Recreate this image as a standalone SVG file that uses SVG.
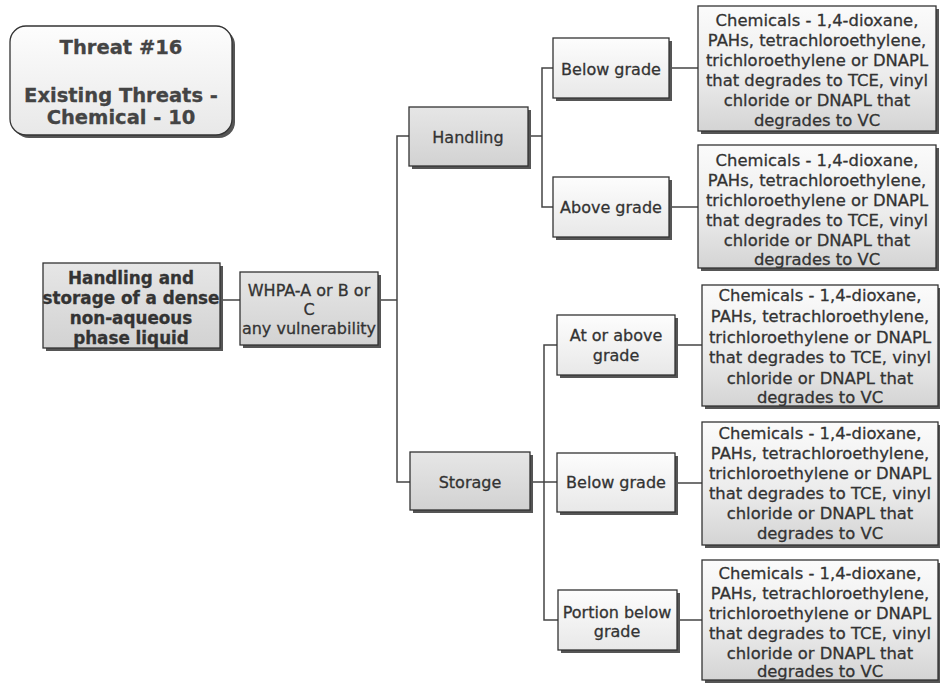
<svg xmlns="http://www.w3.org/2000/svg" width="940" height="687" viewBox="0 0 940 687">
<defs>
<linearGradient id="gGray" x1="0" y1="0" x2="0" y2="1">
<stop offset="0" stop-color="#e6e6e6"/><stop offset="1" stop-color="#d2d2d2"/>
</linearGradient>
<linearGradient id="gLeaf" x1="0" y1="0" x2="0" y2="1">
<stop offset="0" stop-color="#fbfbfb"/><stop offset="0.55" stop-color="#ececec"/><stop offset="1" stop-color="#d4d4d4"/>
</linearGradient>
<linearGradient id="gWhite" x1="0" y1="0" x2="0" y2="1">
<stop offset="0" stop-color="#fdfdfd"/><stop offset="1" stop-color="#e8e8e8"/>
</linearGradient>
</defs>
<style>
.sh{fill:#555}
.box{stroke:#333;stroke-width:1.3}
.g{fill:url(#gGray)}
.l{fill:url(#gLeaf)}
.w{fill:url(#gWhite)}
text{font-family:"DejaVu Sans",Verdana,sans-serif;fill:#333;stroke:#333;stroke-width:0.3;text-anchor:middle}
.b{font-weight:bold;font-size:16.8px}
.t{font-size:19.5px;font-weight:bold;fill:#444;stroke:#444}
.m{font-size:16px}
.c{font-size:16.4px}
.conn path{fill:none;stroke:#444;stroke-width:1.5}
</style>
<rect width="940" height="687" fill="#ffffff"/>

<g class="conn">
<path d="M220 300 H240"/>
<path d="M378 300 H397"/>
<path d="M409 136 H397 V482 H410"/>
<path d="M528 136 H542"/>
<path d="M553 68 H542 V207 H553"/>
<path d="M672 68 H698"/>
<path d="M672 207 H698"/>
<path d="M530 482 H557"/>
<path d="M557 345 H544 V620 H558"/>
<path d="M675 345 H702"/>
<path d="M675 483 H702"/>
<path d="M677 620 H702"/>
</g>

<g id="title">
<rect x="13" y="29" width="222" height="109" rx="16" class="sh"/>
<rect x="10" y="26" width="222" height="109" rx="16" class="box w"/>
<text class="t" x="121" y="54">Threat #16</text>
<text class="t" x="121" y="102">Existing Threats -</text>
<text class="t" x="121" y="124">Chemical - 10</text>
</g>

<g id="n-root">
<rect x="46" y="266" width="177" height="85" class="sh"/>
<rect x="43" y="263" width="177" height="85" class="box g"/>
<text class="b" x="131" y="284">Handling and</text>
<text class="b" x="131" y="304">storage of a dense</text>
<text class="b" x="131" y="324">non-aqueous</text>
<text class="b" x="131" y="344">phase liquid</text>
</g>

<g id="n-whpa">
<rect x="243" y="275" width="138" height="73" class="sh"/>
<rect x="240" y="272" width="138" height="73" class="box g"/>
<text class="m" x="309" y="296">WHPA-A or B or</text>
<text class="m" x="309" y="315">C</text>
<text class="m" x="309" y="334">any vulnerability</text>
</g>

<g id="n-handling">
<rect x="412" y="110" width="119" height="59" class="sh"/>
<rect x="409" y="107" width="119" height="59" class="box g"/>
<text class="m" x="468" y="143">Handling</text>
</g>

<g id="n-storage">
<rect x="413" y="455" width="120" height="58" class="sh"/>
<rect x="410" y="452" width="120" height="58" class="box g"/>
<text class="m" x="470" y="488">Storage</text>
</g>

<g id="n-h-below">
<rect x="556" y="41" width="116" height="60" class="sh"/>
<rect x="553" y="38" width="116" height="60" class="box w"/>
<text class="m" x="611" y="75">Below grade</text>
</g>

<g id="n-h-above">
<rect x="556" y="180" width="116" height="60" class="sh"/>
<rect x="553" y="177" width="116" height="60" class="box w"/>
<text class="m" x="611" y="213">Above grade</text>
</g>

<g id="n-s-atabove">
<rect x="560" y="318" width="118" height="60" class="sh"/>
<rect x="557" y="315" width="118" height="60" class="box w"/>
<text class="m" x="616" y="341">At or above</text>
<text class="m" x="616" y="361">grade</text>
</g>

<g id="n-s-below">
<rect x="560" y="456" width="118" height="59" class="sh"/>
<rect x="557" y="453" width="118" height="59" class="box w"/>
<text class="m" x="616" y="488">Below grade</text>
</g>

<g id="n-s-portion">
<rect x="561" y="593" width="119" height="60" class="sh"/>
<rect x="558" y="590" width="119" height="60" class="box w"/>
<text class="m" x="617" y="618">Portion below</text>
<text class="m" x="617" y="637">grade</text>
</g>

<g id="n-chem1">
<rect x="701" y="9" width="238" height="125" class="sh"/>
<rect x="698" y="6" width="238" height="125" class="box l"/>
<text class="c" x="817" y="26">Chemicals - 1,4-dioxane,</text>
<text class="c" x="817" y="46">PAHs, tetrachloroethylene,</text>
<text class="c" x="817" y="66">trichloroethylene or DNAPL</text>
<text class="c" x="817" y="86">that degrades to TCE, vinyl</text>
<text class="c" x="817" y="106">chloride or DNAPL that</text>
<text class="c" x="817" y="126">degrades to VC</text>
</g>

<g id="n-chem2">
<rect x="701" y="148" width="238" height="123" class="sh"/>
<rect x="698" y="145" width="238" height="123" class="box l"/>
<text class="c" x="817" y="166">Chemicals - 1,4-dioxane,</text>
<text class="c" x="817" y="186">PAHs, tetrachloroethylene,</text>
<text class="c" x="817" y="206">trichloroethylene or DNAPL</text>
<text class="c" x="817" y="226">that degrades to TCE, vinyl</text>
<text class="c" x="817" y="246">chloride or DNAPL that</text>
<text class="c" x="817" y="265">degrades to VC</text>
</g>

<g id="n-chem3">
<rect x="705" y="288" width="236" height="121" class="sh"/>
<rect x="702" y="285" width="236" height="121" class="box l"/>
<text class="c" x="820" y="301">Chemicals - 1,4-dioxane,</text>
<text class="c" x="820" y="322">PAHs, tetrachloroethylene,</text>
<text class="c" x="820" y="343">trichloroethylene or DNAPL</text>
<text class="c" x="820" y="363">that degrades to TCE, vinyl</text>
<text class="c" x="820" y="384">chloride or DNAPL that</text>
<text class="c" x="820" y="403">degrades to VC</text>
</g>

<g id="n-chem4">
<rect x="705" y="425" width="236" height="123" class="sh"/>
<rect x="702" y="422" width="236" height="123" class="box l"/>
<text class="c" x="820" y="439">Chemicals - 1,4-dioxane,</text>
<text class="c" x="820" y="459">PAHs, tetrachloroethylene,</text>
<text class="c" x="820" y="479">trichloroethylene or DNAPL</text>
<text class="c" x="820" y="499">that degrades to TCE, vinyl</text>
<text class="c" x="820" y="519">chloride or DNAPL that</text>
<text class="c" x="820" y="539">degrades to VC</text>
</g>

<g id="n-chem5">
<rect x="705" y="563" width="236" height="120" class="sh"/>
<rect x="702" y="560" width="236" height="120" class="box l"/>
<text class="c" x="820" y="579">Chemicals - 1,4-dioxane,</text>
<text class="c" x="820" y="599">PAHs, tetrachloroethylene,</text>
<text class="c" x="820" y="619">trichloroethylene or DNAPL</text>
<text class="c" x="820" y="639">that degrades to TCE, vinyl</text>
<text class="c" x="820" y="659">chloride or DNAPL that</text>
<text class="c" x="820" y="677">degrades to VC</text>
</g>
</svg>
